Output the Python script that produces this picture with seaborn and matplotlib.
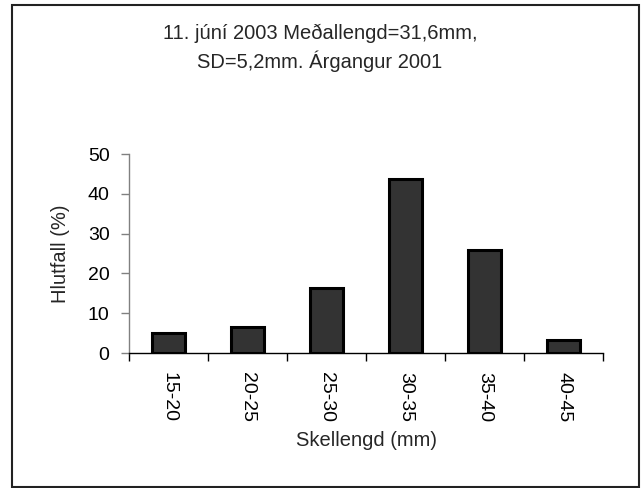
import matplotlib

matplotlib.use("Agg")
import matplotlib.pyplot as plt
import pandas as pd
import seaborn as sns
from matplotlib.patches import Rectangle

CATEGORIES = ["15-20", "20-25", "25-30", "30-35", "35-40", "40-45"]
PERCENT = [4.9, 6.5, 16.3, 43.7, 26.0, 3.3]
Y_TICKS = [0, 10, 20, 30, 40, 50]

TITLE = "11. júní 2003 Meðallengd=31,6mm,\nSD=5,2mm. Árgangur 2001"
X_LABEL = "Skellengd (mm)"
Y_LABEL = "Hlutfall (%)"


def main() -> None:
    sns.set_theme(style="white")
    plt.rcParams["font.family"] = ["Liberation Sans", "DejaVu Sans"]

    df = pd.DataFrame({"lengd": CATEGORIES, "hlutfall": PERCENT})

    fig = plt.figure(figsize=(6.41, 4.88), dpi=100)
    ax = fig.add_axes([129 / 641, 1 - 353 / 488, 474 / 641, 199 / 488])

    sns.barplot(
        data=df,
        x="lengd",
        y="hlutfall",
        color="#333333",
        saturation=1,
        width=0.43,
        edgecolor="black",
        linewidth=2.2,
        ax=ax,
    )

    ax.set_xlim(-0.5, len(CATEGORIES) - 0.5)
    ax.set_ylim(0, 50)
    ax.set_yticks(Y_TICKS)
    ax.tick_params(axis="y", direction="out", length=6, width=1, color="#808080",
                   labelsize=14, labelcolor="black", pad=8, left=True)
    ax.set_xticks(range(len(CATEGORIES)))
    ax.set_xticklabels(CATEGORIES, rotation=-90)
    ax.tick_params(axis="x", which="major", length=0, labelsize=14,
                   labelcolor="black", pad=14)
    ax.set_xticks([i - 0.5 for i in range(len(CATEGORIES) + 1)], minor=True)
    ax.tick_params(axis="x", which="minor", direction="out", length=6, width=1,
                   color="black", bottom=True)

    for side in ["top", "right"]:
        ax.spines[side].set_visible(False)
    ax.spines["left"].set_color("#808080")
    ax.spines["left"].set_linewidth(1)
    ax.spines["bottom"].set_color("black")
    ax.spines["bottom"].set_linewidth(1)

    ax.set_xlabel(X_LABEL, fontsize=14.5, labelpad=6)
    ax.set_ylabel(Y_LABEL, fontsize=14.5, labelpad=13)

    fig.text(320 / 641, 1 - 48 / 488, TITLE, ha="center", va="center",
             fontsize=14.5, linespacing=1.4)

    fig.patches.append(Rectangle((12 / 641, 1 / 488), 627 / 641, 482 / 488,
                                 transform=fig.transFigure, fill=False,
                                 edgecolor="#222222", linewidth=1.5))

    fig.savefig("out.png", dpi=100)
    plt.close(fig)


if __name__ == "__main__":
    main()
